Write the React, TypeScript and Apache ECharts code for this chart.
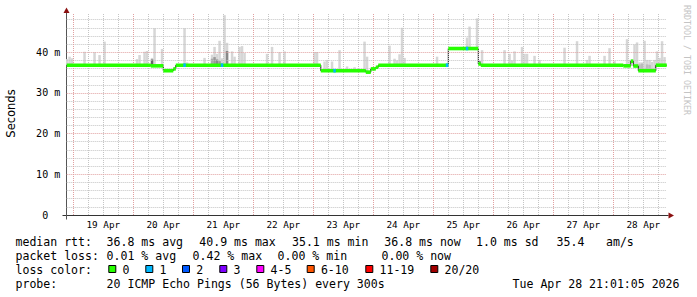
import React, { useEffect, useRef } from "react";
import * as echarts from "echarts";

// ---- axis ranges (hours since 19 Apr 00:00, milliseconds) ----
const X_MIN = -2.64;
const X_MAX = 237.36;
const Y_MAX = 49.63;

// ---- tick labels / gridlines ----
const dayLabels = ["19 Apr", "20 Apr", "21 Apr", "22 Apr", "23 Apr", "24 Apr", "25 Apr", "26 Apr", "27 Apr", "28 Apr"];
const dayLabelHours = [12, 36, 60, 84, 108, 132, 156, 180, 204, 228];
const dayLineHours = [0, 24, 48, 72, 96, 120, 144, 168, 192, 216];
const yLabelValues = [0, 10, 20, 30, 40];
const yMajorLines = [10, 20, 30, 40];
const yMinorLines = [2, 4, 6, 8, 12, 14, 16, 18, 22, 24, 26, 28, 32, 34, 36, 38, 42, 44, 46, 48];

// ---- median rtt (step segments: start hour, value ms) ----
const medianStart = [X_MIN, 31, 36, 40, 41, 99, 117, 119, 121, 122, 150, 162, 163, 220, 223, 224, 226, 233];
const medianValue = [36.8, 36.65, 35.45, 35.9, 36.8, 35.45, 35.1, 35.9, 36.3, 36.8, 40.9, 37.1, 36.8, 36.65, 37.8, 36.6, 35.45, 36.8];

// ---- smoke (hour bin, top ms) ----
const smokeBin = [-3, -2, -1, 4, 8, 10, 12, 25, 26, 28, 29, 31, 32, 35, 44, 45, 52, 55, 56, 57, 58, 59, 60, 61, 63, 64, 66, 67, 68, 77, 79, 82, 84,
  96, 97, 100, 101, 103, 106, 109, 112, 116, 117, 126, 128, 129, 130, 131, 132, 145, 157, 158, 161, 163,
  172, 174, 175, 176, 179, 180, 181, 184, 186, 196, 201, 205, 206, 212, 214, 216,
  221, 222, 223, 224, 225, 226, 227, 228, 229, 230, 231, 232, 233, 234, 235, 236];
const smokeTop = [38.3, 38.9, 38.5, 40.1, 40.0, 39.3, 42.6, 38.3, 39.3, 40.1, 40.3, 38.6, 45.9, 40.8, 45.9, 37.5, 38.6, 39.4, 41.3, 39.6, 42.8, 38.5, 49.1, 42.3, 40.2, 38.9, 41.3, 41.5, 39.8, 39.6, 41.3, 40.0, 40.2,
  40.05, 40.05, 37.7, 38.1, 37.7, 40.5, 36.5, 36.3, 42.6, 38.9, 41.6, 38.4, 38.0, 39.5, 46.0, 38.6, 38.9, 43.6, 46.3, 48.3, 40.5,
  40.5, 39.6, 38.0, 40.2, 41.3, 39.6, 39.6, 39.1, 38.1, 41.1, 42.7, 38.1, 39.1, 39.1, 41.0, 37.8,
  43.2, 38.1, 38.1, 41.9, 42.4, 37.5, 37.5, 42.8, 38.1, 38.1, 37.6, 38.1, 40.2, 38.6, 42.7, 38.8];

// ---- denser smoke near the median (hour bin, top ms, shade) ----
const darkBin = [31, 55, 56, 57, 58, 61, 162, 223, 226, 227, 229, 230];
const darkTop = [38.2, 38.4, 38.8, 38.2, 37.8, 40.3, 37.8, 37.4, 37.0, 37.2, 37.0, 36.9];
const darkShade = ["#666666", "#aaaaaa", "#999999", "#888888", "#999999", "#888888", "#777777", "#999999", "#bbbbbb", "#bbbbbb", "#bbbbbb", "#bbbbbb"];

// ---- packet loss bins (hour bin, lost pings) ----
const lossBin = [44, 59, 104, 149, 157];
const lossCount = [1, 1, 1, 1, 1];

// ---- legend ----
const lossLabels = ["0", "1", "2", "3", "4-5", "6-10", "11-19", "20/20"];
const lossColors = ["#26ff00", "#00b8ff", "#0059ff", "#7e00ff", "#ff00ff", "#ff5500", "#ff0000", "#a10000"];
const lossSquareX = [108.3, 145.3, 182, 219.3, 256.3, 306.7, 365.3, 430.3];

const MONO = "'DejaVu Sans Mono', monospace";
const LEG_FS = 11.55;

function medianAt(h: number): number {
  let v = medianValue[0];
  for (let i = 0; i < medianStart.length; i++) {
    if (medianStart[i] <= h) v = medianValue[i];
  }
  return v;
}

function lossColor(n: number): string {
  if (n <= 0) return lossColors[0];
  if (n === 1) return lossColors[1];
  if (n === 2) return lossColors[2];
  if (n === 3) return lossColors[3];
  if (n <= 5) return lossColors[4];
  if (n <= 10) return lossColors[5];
  if (n <= 19) return lossColors[6];
  return lossColors[7];
}

function legendText(x: number, y: number, text: string) {
  return {
    type: "text",
    x,
    y,
    silent: true,
    style: { text, font: `${LEG_FS}px ${MONO}`, fill: "#000", textAlign: "left", textVerticalAlign: "middle" },
  };
}

export default function App() {
  const ref = useRef<HTMLDivElement>(null);

  useEffect(() => {
    if (!ref.current) return;
    const chart = echarts.init(ref.current, null, { renderer: "svg" });

    const gridLine = (color: string) => ({ color, width: 1, type: [1, 1] as any });
    const markData: any[] = [];
    const sixHour: number[] = [];
    for (let h = 0; h < X_MAX; h += 6) if (h % 24 !== 0) sixHour.push(h);
    sixHour.forEach((h) => markData.push({ xAxis: h, lineStyle: gridLine("#c4c4c4") }));
    yMinorLines.forEach((v) => markData.push({ yAxis: v, lineStyle: gridLine("#c4c4c4") }));
    dayLineHours.forEach((h) => markData.push({ xAxis: h, lineStyle: gridLine("#e0a0a0") }));
    yMajorLines.forEach((v) => markData.push({ yAxis: v, lineStyle: gridLine("#e0a0a0") }));

    const bandData = medianStart.map((s, i) => [s, i + 1 < medianStart.length ? medianStart[i + 1] : X_MAX, medianValue[i]]);
    const lineData = medianStart.map((s, i) => [s, medianValue[i]]);
    lineData.push([X_MAX, medianValue[medianValue.length - 1]]);
    const BAND = 3.6;

    const rectItem = (x0: number, x1: number, yTop: number, yBot: number, api: any, fill: string) => {
      const p0 = api.coord([x0, yTop]);
      const p1 = api.coord([x1, yBot]);
      return {
        type: "rect",
        shape: { x: p0[0], y: p0[1], width: p1[0] - p0[0], height: p1[1] - p0[1] },
        style: { fill },
      };
    };

    const graphics: any[] = [
      // axis extensions and arrows
      { type: "line", silent: true, shape: { x1: 62.5, y1: 215.5, x2: 668.5, y2: 215.5 }, style: { stroke: "#333", lineWidth: 1 } },
      { type: "line", silent: true, shape: { x1: 66.5, y1: 219.5, x2: 66.5, y2: 12 }, style: { stroke: "#555", lineWidth: 1 } },
      { type: "polygon", silent: true, shape: { points: [[63.5, 13], [69.5, 13], [66.5, 7.5]] }, style: { fill: "#8b1010" } },
      { type: "polygon", silent: true, shape: { points: [[668.5, 212.5], [668.5, 218.5], [674, 215.5]] }, style: { fill: "#8b1010" } },
      {
        type: "text", x: 11, y: 113.5, rotation: Math.PI / 2, silent: true,
        style: { text: "Seconds", font: "11.5px 'DejaVu Sans', sans-serif", fill: "#000", textAlign: "center", textVerticalAlign: "middle" },
      },
      {
        type: "text", x: 686.5, y: 5, rotation: -Math.PI / 2, silent: true,
        style: { text: "RRDTOOL / TOBI OETIKER", font: `8.3px ${MONO}`, fill: "#c4c4c4", textAlign: "left", textVerticalAlign: "middle" },
      },
      legendText(15.5, 241.5, "median rtt:"),
      legendText(106.6, 241.5, "36.8 ms avg"),
      legendText(199.3, 241.5, "40.9 ms max"),
      legendText(292, 241.5, "35.1 ms min"),
      legendText(384.3, 241.5, "36.8 ms now"),
      legendText(476, 241.5, "1.0 ms sd"),
      legendText(556.6, 241.5, "35.4"),
      legendText(606, 241.5, "am/s"),
      legendText(15.5, 255.5, "packet loss:"),
      legendText(106.6, 255.5, "0.01 % avg"),
      legendText(192.6, 255.5, "0.42 % max"),
      legendText(277.6, 255.5, "0.00 % min"),
      legendText(381.5, 255.5, "0.00 % now"),
      legendText(15.5, 269.5, "loss color:"),
      legendText(15.5, 283.5, "probe:"),
      legendText(106.6, 283.5, "20 ICMP Echo Pings (56 Bytes) every 300s"),
      legendText(512.6, 283.5, "Tue Apr 28 21:01:05 2026"),
    ];
    lossLabels.forEach((lab, i) => {
      graphics.push({
        type: "rect", silent: true,
        shape: { x: lossSquareX[i] + 0.5, y: 265.5, width: 7, height: 7 },
        style: { fill: lossColors[i], stroke: "#000", lineWidth: 1 },
      });
      graphics.push(legendText(lossSquareX[i] + 14.2, 269.5, lab));
    });

    chart.setOption({
      animation: false,
      backgroundColor: "#ffffff",
      grid: { left: 66.7, top: 13, width: 600, height: 202, containLabel: false, outerBoundsMode: "none" } as any,
      xAxis: {
        type: "value",
        min: X_MIN,
        max: X_MAX,
        axisLine: { show: false },
        axisTick: { show: false },
        splitLine: { show: false },
        axisLabel: {
          customValues: dayLabelHours,
          formatter: (v: number) => dayLabels[Math.round((v - 12) / 24)] ?? "",
          color: "#000",
          fontFamily: MONO,
          fontSize: 9.3,
          margin: 5,
        },
      } as any,
      yAxis: {
        type: "value",
        min: 0,
        max: Y_MAX,
        axisLine: { show: false },
        axisTick: { show: false },
        splitLine: { show: false },
        axisLabel: {
          customValues: yLabelValues,
          formatter: (v: number) => (v === 0 ? "{z|0}" : `${v} m`),
          rich: { z: { padding: [0, 12, 0, 0], fontFamily: MONO, fontSize: 10, color: "#000" } },
          color: "#000",
          fontFamily: MONO,
          fontSize: 10,
          margin: 6.5,
        },
      } as any,
      graphic: graphics,
      series: [
        {
          type: "line",
          data: [],
          z: 1,
          silent: true,
          markLine: { silent: true, symbol: ["none", "none"], label: { show: false }, animation: false, data: markData },
        },
        {
          type: "custom",
          z: 2,
          clip: true,
          silent: true,
          data: smokeBin.map((b, i) => [b, smokeTop[i]]),
          renderItem: (_p: any, api: any) => {
            const b = api.value(0);
            return rectItem(b, b + 1, api.value(1), medianAt(b + 0.5), api, "#d6d6d6");
          },
        },
        {
          type: "custom",
          z: 3,
          clip: true,
          silent: true,
          data: darkBin.map((b, i) => [b, darkTop[i], i]),
          renderItem: (_p: any, api: any) => {
            const b = api.value(0);
            return rectItem(b, b + 1, api.value(1), medianAt(b + 0.5), api, darkShade[api.value(2)]);
          },
        },
        {
          type: "line",
          z: 4,
          silent: true,
          step: "end",
          symbol: "none",
          data: lineData,
          lineStyle: { color: "#111", width: 1 },
        },
        {
          type: "custom",
          z: 5,
          clip: true,
          silent: true,
          data: bandData,
          renderItem: (_p: any, api: any) => {
            const p0 = api.coord([api.value(0), api.value(2)]);
            const p1 = api.coord([api.value(1), api.value(2)]);
            return { type: "rect", shape: { x: p0[0], y: p0[1] - BAND / 2, width: p1[0] - p0[0], height: BAND }, style: { fill: lossColor(0) } };
          },
        },
        {
          type: "custom",
          z: 6,
          clip: true,
          silent: true,
          data: lossBin.map((b, i) => [b, lossCount[i]]),
          renderItem: (_p: any, api: any) => {
            const b = api.value(0);
            const v = medianAt(b + 0.5);
            const p0 = api.coord([b, v]);
            const p1 = api.coord([b + 1, v]);
            return { type: "rect", shape: { x: p0[0], y: p0[1] - BAND / 2, width: p1[0] - p0[0], height: BAND }, style: { fill: lossColor(api.value(1)) } };
          },
        },
      ],
    });

    return () => chart.dispose();
  }, []);

  return (
    <div
      ref={ref}
      style={{ position: "fixed", left: 0, top: 0, width: 697, height: 297, background: "#fff" }}
    />
  );
}
